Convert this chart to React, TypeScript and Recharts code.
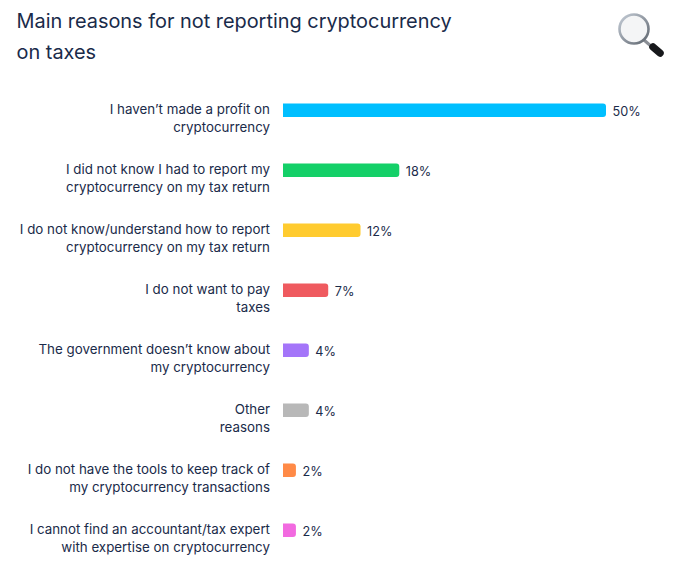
import { BarChart, Bar, XAxis, YAxis, Cell, LabelList } from 'recharts';

const titleLines = ['Main reasons for not reporting cryptocurrency', 'on taxes'];

const reasons = [
  ['I haven’t made a profit on', 'cryptocurrency'],
  ['I did not know I had to report my', 'cryptocurrency on my tax return'],
  ['I do not know/understand how to report', 'cryptocurrency on my tax return'],
  ['I do not want to pay', 'taxes'],
  ['The government doesn’t know about', 'my cryptocurrency'],
  ['Other', 'reasons'],
  ['I do not have the tools to keep track of', 'my cryptocurrency transactions'],
  ['I cannot find an accountant/tax expert', 'with expertise on cryptocurrency'],
];
const shares = [50, 18, 12, 7, 4, 4, 2, 2];
const colors = ['#00bfff', '#14d068', '#ffcb2f', '#ef5a5f', '#a475f9', '#b8b8b8', '#ff8a47', '#f26ae0'];

const data = reasons.map((lines, i) => ({ name: lines.join('|'), share: shares[i] }));

const INK = '#1a2b4a';
const FONT = 'Inter, sans-serif';

// two line category label, right aligned against the bars
function ReasonTick({ x, y, payload }: any) {
  const lines = String(payload.value).split('|');
  return (
    <text x={x} y={y} textAnchor="end" fill={INK} fontFamily={FONT} fontSize={13.35}>
      <tspan x={x} dy={3.5}>{lines[0]}</tspan>
      <tspan x={x} dy={18}>{lines[1]}</tspan>
    </text>
  );
}

function ShareLabel({ x, y, width, height, value }: any) {
  return (
    <text x={x + width + 6.5} y={y + height / 2 + 5.5} fill={INK} fontFamily={FONT} fontSize={12.7}>
      {`${value}%`}
    </text>
  );
}

function Magnifier() {
  return (
    <svg width={56} height={56} viewBox="0 0 56 56" style={{ position: 'absolute', left: 614, top: 7 }}>
      <defs>
        <linearGradient id="rim" x1="0" y1="0" x2="1" y2="1">
          <stop offset="0%" stopColor="#c4ccd6" />
          <stop offset="100%" stopColor="#5f666f" />
        </linearGradient>
      </defs>
      <line x1="30" y1="33" x2="38" y2="40" stroke="#8b8f96" strokeWidth={3} />
      <line x1="39" y1="40" x2="46" y2="46" stroke="#17181b" strokeWidth={7.5} strokeLinecap="round" />
      <circle cx="20" cy="22" r="14.5" fill="#f4f5f6" stroke="url(#rim)" strokeWidth={2.6} />
    </svg>
  );
}

export default function App() {
  return (
    <div style={{ position: 'absolute', left: 0, top: 0, width: 680, height: 566, background: '#fff' }}>
      <div style={{ position: 'absolute', left: 16.5, top: 6, color: INK, fontFamily: FONT, fontSize: 19.9, lineHeight: '31px' }}>
        {titleLines.map((t) => (
          <div key={t}>{t}</div>
        ))}
      </div>
      <Magnifier />
      <BarChart
        width={680}
        height={566}
        data={data}
        layout="vertical"
        margin={{ top: 80.5, right: 74, bottom: 5.5, left: 0 }}
        style={{ position: 'absolute', left: 0, top: 0 }}
      >
        <XAxis type="number" domain={[0, 50]} hide />
        <YAxis
          type="category"
          dataKey="name"
          width={283}
          axisLine={false}
          tickLine={false}
          tickMargin={0}
          interval={0}
          tick={(props: any) => <ReasonTick {...props} x={270} />}
        />
        <Bar dataKey="share" radius={[0, 3, 3, 0]} barSize={13.5} isAnimationActive={false}>
          {data.map((d, i) => (
            <Cell key={d.name} fill={colors[i]} />
          ))}
          <LabelList dataKey="share" content={ShareLabel} />
        </Bar>
      </BarChart>
    </div>
  );
}
